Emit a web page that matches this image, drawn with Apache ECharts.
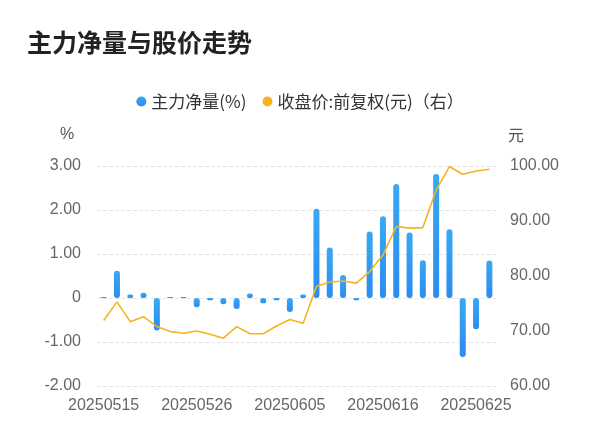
<!DOCTYPE html>
<html>
<head>
<meta charset="utf-8">
<script src="https://cdn.jsdelivr.net/npm/echarts@6/dist/echarts.min.js"></script>
<style>html,body{margin:0;padding:0;background:#fff;}#main{width:600px;height:446px;}</style>
</head>
<body>
<div id="main"></div>
<script>
var dates = ['20250515','20250516','20250519','20250520','20250521','20250522','20250523','20250526','20250527','20250528',
  '20250529','20250530','20250603','20250604','20250605','20250606','20250609','20250610','20250611','20250612',
  '20250613','20250616','20250617','20250618','20250619','20250620','20250623','20250624','20250625','20250626'];
var netVol = [0.02,0.62,0.08,0.12,-0.74,0.02,0.02,-0.21,-0.05,-0.14,
  -0.25,0.10,-0.12,-0.05,-0.32,0.08,2.03,1.15,0.52,-0.05,
  1.51,1.86,2.59,1.49,0.86,2.82,1.56,-1.34,-0.71,0.85];
var price = [71.9,75.3,71.7,72.6,70.8,69.9,69.6,70.0,69.4,68.7,
  70.8,69.5,69.5,70.9,72.1,71.4,78.1,78.9,79.1,78.7,
  80.8,83.8,89.0,88.7,88.8,95.6,99.9,98.5,99.1,99.4];

var chart = echarts.init(document.getElementById('main'));
var font = 'Noto Sans CJK SC';
var numFont = 'Liberation Sans';
chart.setOption({
  textStyle: { fontFamily: font },
  title: { text: '主力净量与股价走势', left: 22, top: 25,
    textStyle: { fontSize: 25, fontWeight: 'bold', color: '#222', fontFamily: font } },
  legend: { top: 88, left: 'center', itemWidth: 10, itemHeight: 10, itemGap: 16,
    textStyle: { fontSize: 17, color: '#333' },
    data: [{ name: '主力净量(%)', icon: 'circle' }, { name: '收盘价:前复权(元)（右）', icon: 'circle' }] },
  grid: { left: 97, right: 104, top: 166, bottom: 60 },
  xAxis: { type: 'category', data: dates,
    axisLine: { show: false }, axisTick: { show: false },
    axisLabel: { interval: 6, color: '#666', fontSize: 16, margin: 12, fontFamily: numFont } },
  yAxis: [
    { type: 'value', name: '%', min: -2, max: 3, interval: 1,
      nameTextStyle: { color: '#555', fontSize: 16, padding: [0, 60, 8, 0], fontFamily: numFont },
      axisLabel: { color: '#666', fontSize: 16, margin: 16, fontFamily: numFont,
        formatter: function (v) { return v === 0 ? '0' : v.toFixed(2); } },
      splitLine: { lineStyle: { type: 'dashed', color: '#e6e6e6' } } },
    { type: 'value', name: '元', min: 60, max: 100, interval: 10, position: 'right',
      nameTextStyle: { color: '#555', fontSize: 16, padding: [0, 0, 8, 40] },
      axisLabel: { color: '#666', fontSize: 16, margin: 14, fontFamily: numFont,
        formatter: function (v) { return v.toFixed(2); } },
      splitLine: { show: false } }
  ],
  series: [
    { name: '主力净量(%)', type: 'bar', data: netVol, barWidth: 6,
      itemStyle: { borderRadius: 3,
        color: new echarts.graphic.LinearGradient(0, 0, 0, 1,
          [{ offset: 0, color: '#3aa8f2' }, { offset: 1, color: '#2a8cf0' }]) } },
    { name: '收盘价:前复权(元)（右）', type: 'line', yAxisIndex: 1, data: price,
      symbol: 'none', lineStyle: { color: '#f6b320', width: 1.6 }, itemStyle: { color: '#f6b320' } }
  ]
});
</script>
</body>
</html>
